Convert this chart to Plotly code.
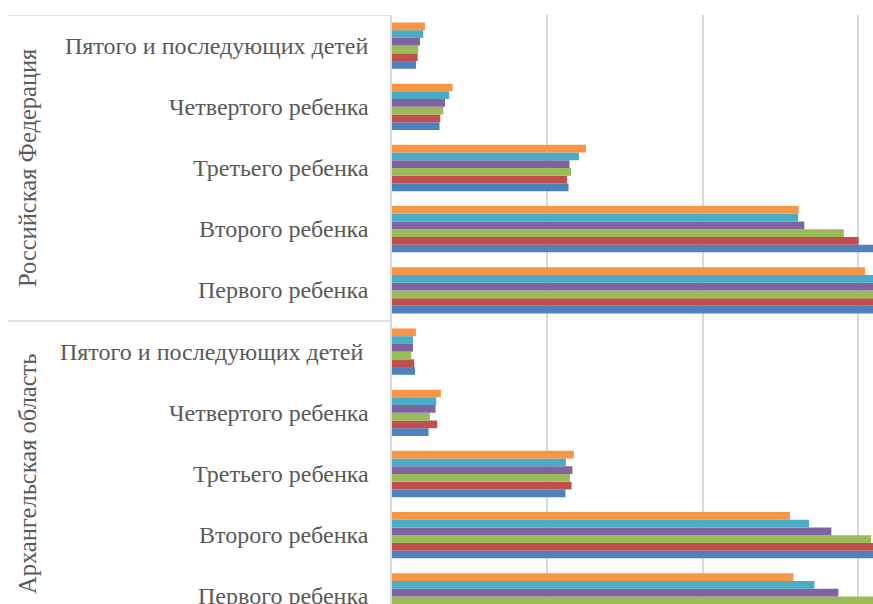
import plotly.graph_objects as go

regions = ["Российская Федерация", "Архангельская область"]
birth_orders = ["Первого ребенка", "Второго ребенка", "Третьего ребенка",
                "Четвертого ребенка", "Пятого и последующих детей"]
series_names = ["2010", "2011", "2012", "2013", "2014", "2015"]
series_colors = ["#4F81BD", "#C0504D", "#9BBB59", "#8064A2", "#4BACC6", "#F79646"]

# values per series, order of birth_orders
rf_values = [
    [33.5, 32.0, 11.36, 3.06, 1.54],
    [33.0, 30.03, 11.27, 3.11, 1.65],
    [32.5, 29.07, 11.53, 3.30, 1.69],
    [32.0, 26.53, 11.42, 3.41, 1.80],
    [31.5, 26.13, 12.03, 3.68, 2.01],
    [30.44, 26.17, 12.48, 3.90, 2.12],
]
arkh_values = [
    [32.5, 32.0, 11.16, 2.35, 1.48],
    [32.0, 31.6, 11.55, 2.91, 1.43],
    [31.5, 30.82, 11.45, 2.44, 1.24],
    [28.72, 28.27, 11.61, 2.80, 1.35],
    [27.18, 26.84, 11.19, 2.85, 1.35],
    [25.83, 25.61, 11.70, 3.15, 1.54],
]

n = len(birth_orders)
# numeric slot positions: Arkhangelsk 0..4 (bottom), RF 5..9 (top)
arkh_pos = list(range(n))
rf_pos = [p + n for p in range(n)]
y_pos = arkh_pos + rf_pos

TEXT = "#595959"
GRID = "#D9D9D9"
FONT = "Liberation Serif, Times New Roman, DejaVu Serif, serif"

fig = go.Figure()
for name, color, rv, av in zip(series_names, series_colors, rf_values, arkh_values):
    fig.add_trace(go.Bar(
        x=av + rv, y=y_pos, orientation="h", name=name,
        marker=dict(color=color, line=dict(width=0)),
        showlegend=False,
    ))

annotations = []
for i, lab in enumerate(birth_orders):
    for region_pos, is_arkh in ((rf_pos, False), (arkh_pos, True)):
        text = lab + ("\u00a0" if (is_arkh and i == n - 1) else "")
        annotations.append(dict(
            x=0, xref="paper", y=region_pos[i], yref="y", text=text,
            xanchor="right", yanchor="middle", xshift=-21, showarrow=False,
            font=dict(family=FONT, size=24, color=TEXT),
        ))
for region, pos in zip(regions, (rf_pos, arkh_pos)):
    annotations.append(dict(
        x=0, xref="paper", y=(pos[0] + pos[-1]) / 2, yref="y", text=region,
        textangle=-90, xanchor="center", yanchor="middle", xshift=-365,
        showarrow=False, font=dict(family=FONT, size=24.5, color=TEXT),
    ))

plot_w = 873 - 392
x_left = -(392 - 8) / plot_w
shapes = [
    dict(type="line", xref="paper", yref="y", x0=x_left, x1=0,
         y0=rf_pos[-1] + 0.5, y1=rf_pos[-1] + 0.5, line=dict(color=GRID, width=1.5)),
    dict(type="line", xref="paper", yref="y", x0=x_left, x1=0,
         y0=rf_pos[0] - 0.5, y1=rf_pos[0] - 0.5, line=dict(color=GRID, width=1.5)),
]

fig.update_layout(
    width=873, height=604,
    margin=dict(l=392, r=0, t=15, b=0),
    paper_bgcolor="white", plot_bgcolor="white",
    font=dict(family=FONT, color=TEXT),
    barmode="group", bargap=0.243, bargroupgap=0,
    annotations=annotations, shapes=shapes,
    xaxis=dict(range=[0, 30.95], dtick=10, showgrid=True, gridcolor=GRID, gridwidth=1.5,
               showticklabels=False, zeroline=False, showline=False, ticks=""),
    yaxis=dict(range=[-0.124, 9.5], showticklabels=False, showgrid=False,
               zeroline=False, showline=True, linecolor=GRID, linewidth=1.5, ticks=""),
)

fig.write_html(
    "out.html",
    config={"displayModeBar": False},
    post_script="document.body.style.margin='0';document.body.style.overflow='hidden';",
)
